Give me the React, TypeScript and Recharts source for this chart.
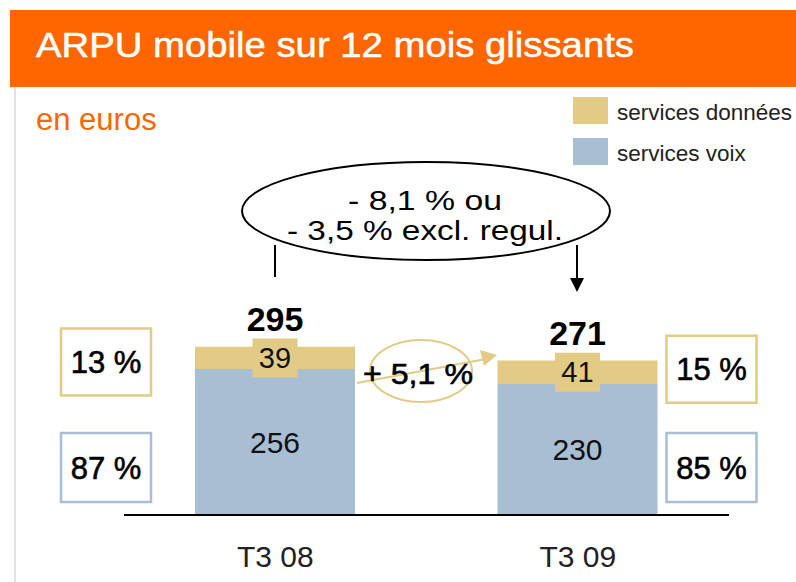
import { BarChart, Bar, XAxis, YAxis, LabelList } from 'recharts';

const categories = ['T3 08', 'T3 09'];
const voix = [256, 230];
const donnees = [39, 41];
const totals = [295, 271];
const partDonnees = ['13 %', '15 %'];
const partVoix = ['87 %', '85 %'];

const seriesNames = ['services données', 'services voix'];
const title = 'ARPU mobile sur 12 mois glissants';
const unitLabel = 'en euros';
const totalChange = ['- 8,1 % ou', '- 3,5 % excl. regul.'];
const dataChange = '+ 5,1 %';

const ORANGE = '#ff6600';
const TAN = '#e3cb85';
const BLUE = '#a7bed3';
const FONT = '"Liberation Sans", Arial, Helvetica, sans-serif';

const chartData = categories.map((cat, i) => ({
  cat,
  voix: voix[i],
  donnees: donnees[i],
  total: totals[i],
}));

// label + total + share box for the data segment
const DonneesLabel = (props: any) => {
  const { x, y, width, height, value, index } = props;
  const cx = x + width / 2;
  const cy = y + height / 2;
  const boxX = index === 0 ? x - 134 : x + width + 9;
  const boxCy = index === 0 ? cy + 4 : cy - 3;
  return (
    <g fontFamily={FONT}>
      <rect x={cx - 22.5} y={cy - 19.5} width={45} height={39} fill={TAN} />
      <text x={cx} y={cy + 10} textAnchor="middle" fontSize={29} fill="#111">
        {value}
      </text>
      <text x={cx} y={y - 16} textAnchor="middle" fontSize={34} fontWeight="bold" fill="#000">
        {totals[index]}
      </text>
      <rect x={boxX} y={boxCy - 33.5} width={90} height={67} fill="#fff" stroke={TAN} strokeWidth={2.5} />
      <text x={boxX + 45} y={boxCy + 11} textAnchor="middle" fontSize={31} fill="#000" stroke="#000" strokeWidth={0.6}>
        {partDonnees[index]}
      </text>
    </g>
  );
};

const VoixLabel = (props: any) => {
  const { x, y, width, height, value, index } = props;
  const cx = x + width / 2;
  const cy = y + height / 2;
  const bottom = y + height;
  const boxX = index === 0 ? x - 134 : x + width + 9;
  return (
    <g fontFamily={FONT}>
      <text x={cx} y={cy + 11} textAnchor="middle" fontSize={30} fill="#111">
        {value}
      </text>
      <rect x={boxX} y={bottom - 82} width={90} height={69} fill="#fff" stroke={BLUE} strokeWidth={2.5} />
      <text x={boxX + 45} y={bottom - 36} textAnchor="middle" fontSize={31} fill="#000" stroke="#000" strokeWidth={0.6}>
        {partVoix[index]}
      </text>
    </g>
  );
};

export default function App() {
  return (
    <div style={{ position: 'absolute', left: 0, top: 0, width: 796, height: 582, background: '#fff', overflow: 'hidden' }}>
      <BarChart
        width={796}
        height={582}
        data={chartData}
        margin={{ top: 344, right: 67, left: 124, bottom: 7 }}
        barCategoryGap={0}
      >
        <XAxis
          dataKey="cat"
          height={60}
          axisLine={{ stroke: '#000', strokeWidth: 2 }}
          tickLine={false}
          tickSize={0}
          tickMargin={31}
          tick={{ fontSize: 30, fill: '#222', fontFamily: FONT }}
        />
        <YAxis hide domain={[0, 300]} />
        <Bar dataKey="voix" stackId="a" fill={BLUE} barSize={160} isAnimationActive={false}>
          <LabelList dataKey="voix" content={<VoixLabel />} />
        </Bar>
        <Bar dataKey="donnees" stackId="a" fill={TAN} barSize={160} isAnimationActive={false}>
          <LabelList dataKey="donnees" content={<DonneesLabel />} />
        </Bar>
      </BarChart>

      <svg
        width={796}
        height={582}
        style={{ position: 'absolute', left: 0, top: 0, pointerEvents: 'none' }}
        fontFamily={FONT}
      >
        <line x1={15} y1={87} x2={15} y2={582} stroke="#e2e2e2" strokeWidth={2} />
        <rect x={10} y={10} width={786} height={77} fill={ORANGE} />
        <text x={36} y={57} fontSize={35} fill="#fff" stroke="#fff" strokeWidth={0.5} textLength={598} lengthAdjust="spacingAndGlyphs">
          {title}
        </text>
        <text x={36} y={130} fontSize={31} fill={ORANGE}>
          {unitLabel}
        </text>

        {/* legend */}
        <rect x={573} y={97} width={35} height={27} fill={TAN} />
        <text x={617} y={120} fontSize={22.5} fill="#222">{seriesNames[0]}</text>
        <rect x={573} y={138} width={35} height={27} fill={BLUE} />
        <text x={617} y={161} fontSize={22.5} fill="#222">{seriesNames[1]}</text>

        {/* total change bubble */}
        <line x1={275} y1={245} x2={275} y2={277} stroke="#000" strokeWidth={2} />
        <line x1={577} y1={245} x2={577} y2={280} stroke="#000" strokeWidth={2} />
        <polygon points="570,278 584,278 577,292" fill="#000" />
        <ellipse cx={426} cy={211} rx={184} ry={49} fill="#fff" stroke="#000" strokeWidth={2} />
        <text x={425} y={210} textAnchor="middle" fontSize={28} fill="#000" textLength={154} lengthAdjust="spacingAndGlyphs">
          {totalChange[0]}
        </text>
        <text x={425} y={240} textAnchor="middle" fontSize={28} fill="#000" textLength={276} lengthAdjust="spacingAndGlyphs">
          {totalChange[1]}
        </text>

        {/* data growth bubble */}
        <ellipse cx={421} cy={371} rx={51} ry={31} fill="none" stroke={TAN} strokeWidth={2} />
        <line x1={357} y1={383} x2={486} y2={359} stroke={TAN} strokeWidth={2} />
        <polygon points="480,350 497,355 484,366" fill={TAN} />
        <text x={363} y={384} fontSize={30} fill="#000" stroke="#000" strokeWidth={0.6} textLength={110} lengthAdjust="spacingAndGlyphs">
          {dataChange}
        </text>
      </svg>
    </div>
  );
}
